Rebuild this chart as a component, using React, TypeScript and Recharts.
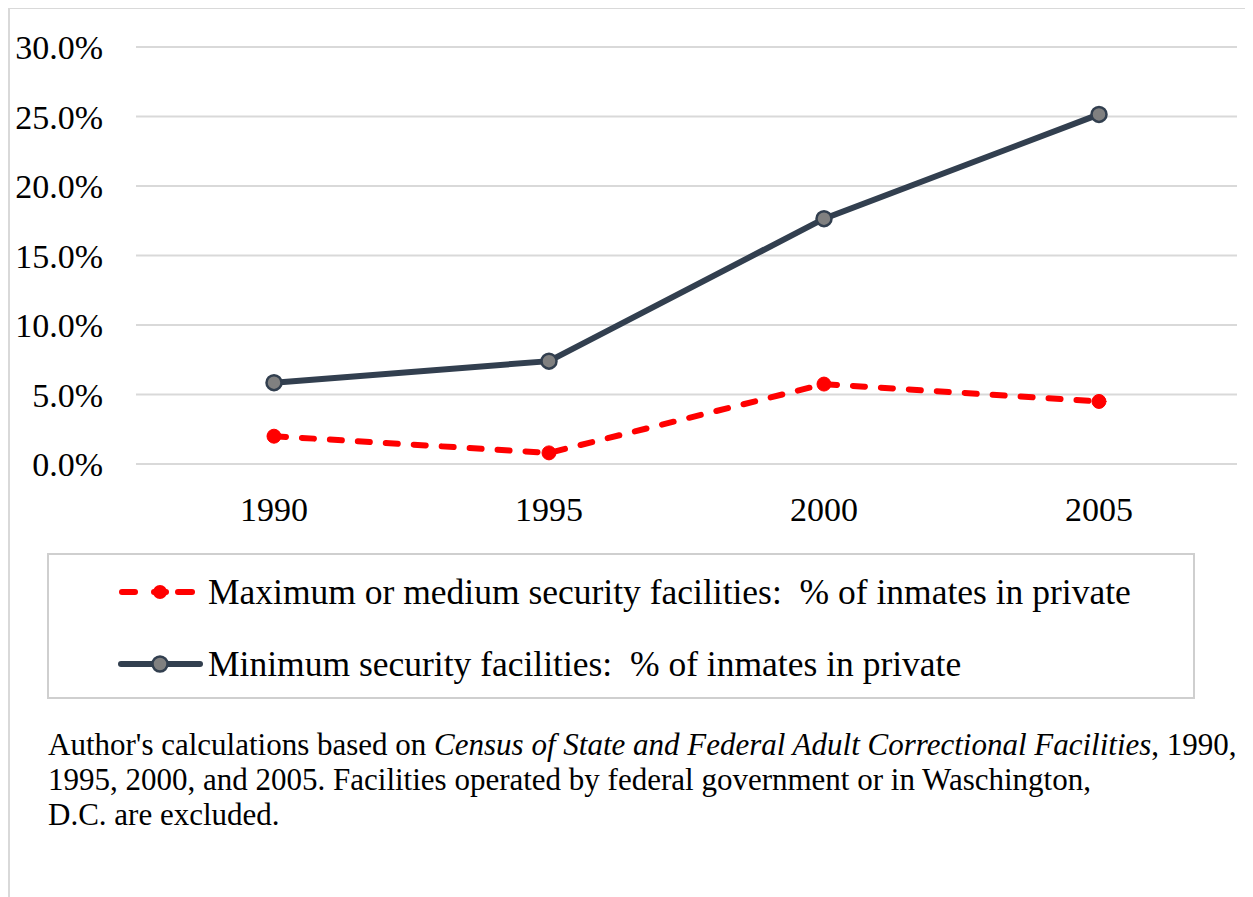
import { CartesianGrid, Legend, Line, LineChart, XAxis, YAxis } from "recharts";

const years = ["1990", "1995", "2000", "2005"];
const maxMedium = [2.0, 0.8, 5.75, 4.5];
const minimum = [5.85, 7.4, 17.65, 25.15];
const yTicks = [0, 5, 10, 15, 20, 25, 30];

const MAX_NAME = "Maximum or medium security facilities:  % of inmates in private";
const MIN_NAME = "Minimum security facilities:  % of inmates in private";

const data = years.map((y, i) => ({ year: y, maxMedium: maxMedium[i], minimum: minimum[i] }));

const FONT = "'Liberation Serif', 'Times New Roman', serif";
const NAVY = "#323f4f";

function LegendBox({ payload }: any) {
  return (
    <div style={{ boxSizing: "border-box", width: "100%", height: "100%", border: "2px solid #cfcfcf", fontFamily: FONT, position: "relative" }}>
      {(payload || []).map((p: any, i: number) => {
        const isMax = p.dataKey === "maxMedium";
        return (
          <div key={i} style={{ position: "absolute", left: 69, top: i === 0 ? 15 : 87, height: 44, display: "flex", alignItems: "center" }}>
            <svg width={90} height={44}>
              {isMax ? (
                <g>
                  <line x1={4} y1={22} x2={17} y2={22} stroke="#ff0000" strokeWidth={6} strokeLinecap="round" />
                  <line x1={36} y1={22} x2={48} y2={22} stroke="#ff0000" strokeWidth={6} strokeLinecap="round" />
                  <line x1={60} y1={22} x2={74} y2={22} stroke="#ff0000" strokeWidth={6} strokeLinecap="round" />
                  <circle cx={42} cy={22} r={7} fill="#ff0000" />
                </g>
              ) : (
                <g>
                  <line x1={3} y1={22} x2={82} y2={22} stroke={NAVY} strokeWidth={6} strokeLinecap="round" />
                  <circle cx={42} cy={22} r={7.5} fill="#808080" stroke={NAVY} strokeWidth={2.5} />
                </g>
              )}
            </svg>
            <span style={{ fontSize: 35.5, color: "#000", whiteSpace: "pre" }}>{p.value}</span>
          </div>
        );
      })}
    </div>
  );
}

export default function App() {
  return (
    <div
      style={{
        position: "relative",
        top: -1,
        width: 1245,
        height: 890,
        boxSizing: "border-box",
        borderLeft: "2px solid #d9d9d9",
        borderTop: "2px solid #d9d9d9",
        borderRight: "2px solid #d9d9d9",
        background: "#fff",
        fontFamily: FONT,
      }}
    >
      <LineChart width={1241} height={700} data={data} margin={{ top: 38, right: 14, left: 0, bottom: 205 }}>
        <CartesianGrid vertical={false} stroke="#d9d9d9" strokeWidth={2} />
        <XAxis
          dataKey="year"
          axisLine={false}
          tickLine={false}
          tickSize={0}
          tickMargin={33}
          height={40}
          padding={{ left: 138, right: 138 }}
          tick={{ fontSize: 34, fill: "#000", fontFamily: FONT }}
        />
        <YAxis
          domain={[0, 30]}
          ticks={yTicks}
          width={126}
          axisLine={false}
          tickLine={false}
          tickSize={0}
          tickMargin={33}
          tickFormatter={(v: number) => v.toFixed(1) + "%"}
          tick={{ fontSize: 34, fill: "#000", fontFamily: FONT }}
        />
        <Legend
          layout="horizontal"
          verticalAlign="middle"
          align="center"
          wrapperStyle={{ left: 37, top: 544, width: 1148, height: 146 }}
          content={(props: any) => <LegendBox {...props} />}
        />
        <Line
          dataKey="maxMedium"
          name={MAX_NAME}
          stroke="#ff0000"
          strokeWidth={6}
          strokeDasharray="12 16"
          strokeLinecap="round"
          dot={{ r: 7, fill: "#ff0000", stroke: "#ff0000", strokeWidth: 1, strokeDasharray: "0" }}
          isAnimationActive={false}
        />
        <Line
          dataKey="minimum"
          name={MIN_NAME}
          stroke={NAVY}
          strokeWidth={6}
          dot={{ r: 7.5, fill: "#808080", stroke: NAVY, strokeWidth: 2.5 }}
          isAnimationActive={false}
        />
      </LineChart>
      <div style={{ marginLeft: 38, marginTop: 18, fontSize: 31, lineHeight: "35px", color: "#000", whiteSpace: "nowrap" }}>
        Author's calculations based on <i>Census of State and Federal Adult Correctional Facilities</i>, 1990,
        <br />
        1995, 2000, and 2005. Facilities operated by federal government or in Waschington,
        <br />
        D.C. are excluded.
      </div>
    </div>
  );
}
